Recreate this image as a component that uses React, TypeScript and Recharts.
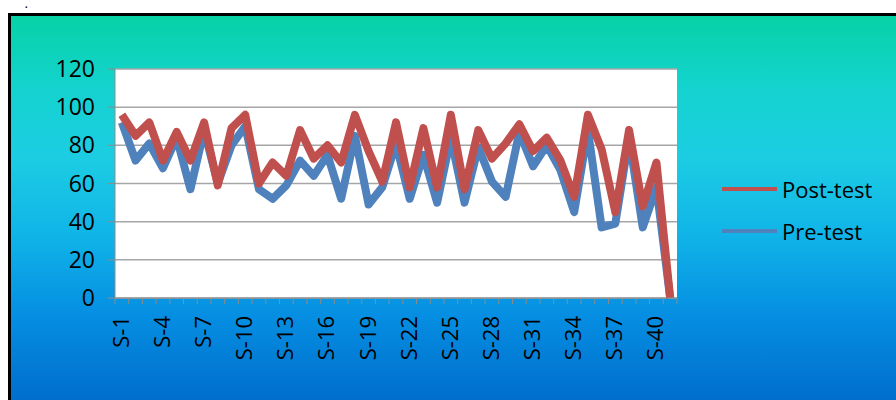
import React from 'react';
import { LineChart, Line, XAxis, YAxis, CartesianGrid } from 'recharts';

const categories = [
  'S-1', 'S-2', 'S-3', 'S-4', 'S-5', 'S-6', 'S-7', 'S-8', 'S-9', 'S-10',
  'S-11', 'S-12', 'S-13', 'S-14', 'S-15', 'S-16', 'S-17', 'S-18', 'S-19', 'S-20',
  'S-21', 'S-22', 'S-23', 'S-24', 'S-25', 'S-26', 'S-27', 'S-28', 'S-29', 'S-30',
  'S-31', 'S-32', 'S-33', 'S-34', 'S-35', 'S-36', 'S-37', 'S-38', 'S-39', 'S-40',
  'S-41'
];

const preTest = [
  92, 72, 81, 68, 84, 57, 88, 60, 80, 90,
  57, 52, 59, 72, 64, 75, 52, 85, 49, 58,
  81, 52, 75, 50, 84, 50, 79, 61, 53, 87,
  69, 80, 67, 45, 88, 37, 39, 84, 37, 58,
  0
];

const postTest = [
  96, 85, 92, 72, 87, 72, 92, 59, 89, 96,
  60, 71, 64, 88, 73, 80, 71, 96, 77, 61,
  92, 58, 89, 58, 96, 57, 88, 73, 81, 91,
  77, 84, 72, 53, 96, 78, 45, 88, 48, 71,
  0
];

const yTicks = [0, 20, 40, 60, 80, 100, 120];

const PRE_COLOR = '#4F81BD';
const POST_COLOR = '#C0504D';
const FONT = '"Open Sans", sans-serif';

// plot area geometry (Excel style layout)
const PLOT_LEFT = 115;
const PLOT_RIGHT = 677;
const BAND = (PLOT_RIGHT - PLOT_LEFT) / categories.length;

const data = categories.map((name, i) => ({
  name,
  pre: preTest[i],
  post: postTest[i]
}));

// category ticks: marks between categories, label on every third one
const XTick = (props: any) => {
  const { x, y, payload, index } = props;
  const half = BAND / 2;
  const isLast = index === categories.length - 1;
  return (
    <g>
      <line x1={x - half} x2={x - half} y1={y} y2={y + 6} stroke="#8c8c8c" />
      {isLast && <line x1={x + half} x2={x + half} y1={y} y2={y + 6} stroke="#8c8c8c" />}
      {index % 3 === 0 && (
        <text
          transform={`translate(${x + 7},${y + 18}) rotate(-90)`}
          textAnchor="end"
          fontSize={22}
          fontFamily={FONT}
          fill="#000"
        >
          {payload.value}
        </text>
      )}
    </g>
  );
};

export default function App() {
  return (
    <div style={{ position: 'relative', width: 896, height: 400, overflow: 'hidden', background: '#fff' }}>
      <style>{'body{margin:0}'}</style>
      <span style={{ position: 'absolute', left: 25, top: 0, fontSize: 10, lineHeight: '10px', fontWeight: 'bold', color: '#000' }}>.</span>
      <div
        style={{
          position: 'absolute',
          left: 8,
          top: 13,
          width: 900,
          height: 400,
          border: '3px solid #000',
          background: 'linear-gradient(to bottom, #06d2a6 0%, #14d3cf 18%, #1ccde2 35%, #10b4e8 55%, #058ee2 75%, #0068c8 100%)'
        }}
      />
      <div style={{ position: 'absolute', left: 0, top: 0 }}>
        <LineChart
          width={896}
          height={400}
          data={data}
          margin={{ top: 69, right: 896 - PLOT_RIGHT, bottom: 22, left: 55 }}
        >
          <CartesianGrid vertical={false} stroke="#a6a6a6" strokeWidth={1.5} fill="#ffffff" fillOpacity={1} />
          <XAxis
            dataKey="name"
            interval={0}
            height={80}
            padding={{ left: BAND / 2, right: BAND / 2 }}
            axisLine={{ stroke: '#8c8c8c' }}
            tickLine={false}
            tickSize={0}
            tickMargin={0}
            tick={<XTick />}
          />
          <YAxis
            width={60}
            domain={[0, 120]}
            ticks={yTicks}
            interval={0}
            axisLine={{ stroke: '#8c8c8c' }}
            tickLine={{ stroke: '#8c8c8c' }}
            tickSize={7}
            tickMargin={13}
            tick={{ fontSize: 23, fontFamily: FONT, fill: '#000' }}
          />
          <Line
            type="linear"
            dataKey="pre"
            name="Pre-test"
            stroke={PRE_COLOR}
            strokeWidth={8}
            strokeLinejoin="round"
            dot={false}
            isAnimationActive={false}
          />
          <Line
            type="linear"
            dataKey="post"
            name="Post-test"
            stroke={POST_COLOR}
            strokeWidth={8}
            strokeLinejoin="round"
            dot={false}
            isAnimationActive={false}
          />
        </LineChart>
      </div>
      {[
        { label: 'Post-test', color: POST_COLOR, y: 189 },
        { label: 'Pre-test', color: PRE_COLOR, y: 231 }
      ].map(item => (
        <div key={item.label} style={{ position: 'absolute', left: 722, top: item.y - 15, height: 30, display: 'flex', alignItems: 'center' }}>
          <div style={{ width: 55, height: 4, background: item.color, marginRight: 5 }} />
          <span style={{ fontFamily: FONT, fontSize: 22, color: '#000', lineHeight: '30px' }}>{item.label}</span>
        </div>
      ))}
    </div>
  );
}
